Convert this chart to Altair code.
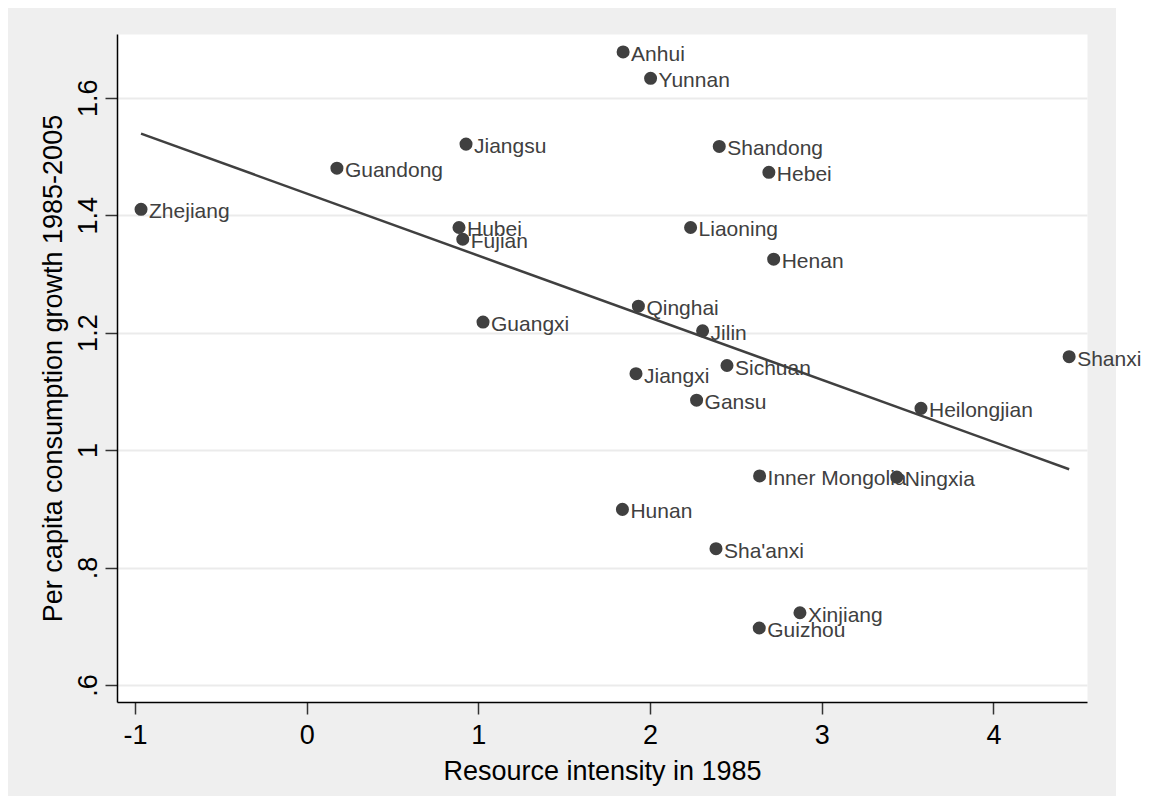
import altair as alt
import pandas as pd

provinces = ["Zhejiang", "Guandong", "Jiangsu", "Anhui", "Yunnan", "Shandong", "Hebei",
             "Liaoning", "Hubei", "Fujian", "Henan", "Qinghai", "Guangxi", "Jilin",
             "Shanxi", "Jiangxi", "Sichuan", "Gansu", "Heilongjian", "Inner Mongolia",
             "Ningxia", "Hunan", "Sha'anxi", "Xinjiang", "Guizhou"]
resource_intensity = [-0.965, 0.176, 0.928, 1.843, 2.003, 2.403, 2.692,
                      2.236, 0.887, 0.909, 2.720, 1.932, 1.027, 2.306,
                      4.441, 1.918, 2.448, 2.271, 3.578, 2.638,
                      3.437, 1.839, 2.384, 2.873, 2.636]
consumption_growth = [1.410, 1.480, 1.521, 1.678, 1.633, 1.517, 1.473,
                      1.379, 1.379, 1.359, 1.325, 1.245, 1.218, 1.203,
                      1.159, 1.130, 1.144, 1.085, 1.071, 0.956,
                      0.954, 0.899, 0.832, 0.723, 0.697]

x_ticks = [-1, 0, 1, 2, 3, 4]
y_ticks = [0.6, 0.8, 1.0, 1.2, 1.4, 1.6]
y_tick_labels = [".6", ".8", "1", "1.2", "1.4", "1.6"]

df = pd.DataFrame({"prov": provinces, "x": resource_intensity, "y": consumption_growth})

# label expression for y ticks built from the tick lists
y_expr = "''"
for v, lab in reversed(list(zip(y_ticks, y_tick_labels))):
    y_expr = f"abs(datum.value - {v}) < 0.01 ? '{lab}' : ({y_expr})"

FONT = "Liberation Sans"
DARK = "#404040"

xscale = alt.Scale(domain=[-1.105, 4.545], nice=False, zero=False)
yscale = alt.Scale(domain=[0.571, 1.7085], nice=False, zero=False)

xaxis = alt.Axis(values=x_ticks, labelExpr="'' + datum.value", title="Resource intensity in 1985",
                 grid=False, tickSize=12, tickWidth=1.5, tickColor="#333333",
                 domainColor="#000000", domainWidth=1.5,
                 labelFont=FONT, labelFontSize=27, labelColor="#000000", labelPadding=8,
                 titleFont=FONT, titleFontSize=27, titleFontWeight="normal", titleColor="#000000",
                 titlePadding=10)
yaxis = alt.Axis(values=y_ticks, labelExpr=y_expr, title="Per capita consumption growth 1985-2005",
                 grid=True, gridColor="#ebebeb", gridWidth=2,
                 tickSize=12, tickWidth=1.5, tickColor="#333333",
                 domainColor="#000000", domainWidth=1.5,
                 labelFont=FONT, labelFontSize=27, labelColor="#000000",
                 labelAngle=270, labelAlign="center", labelBaseline="alphabetic", labelPadding=9,
                 titleFont=FONT, titleFontSize=27, titleFontWeight="normal", titleColor="#000000",
                 titlePadding=7)

base = alt.Chart(df)

# white strip to the right of the grey graph region (decorative)
edge = base.mark_rect(color="white").encode(
    x=alt.value(999), x2=alt.value(1100), y=alt.value(-40), y2=alt.value(800)
).transform_filter("datum.prov == 'Zhejiang'")

points = base.mark_point(filled=True, shape="circle", size=170, color=DARK, opacity=1).encode(
    x=alt.X("x:Q", scale=xscale, axis=xaxis),
    y=alt.Y("y:Q", scale=yscale, axis=yaxis),
)

labels = base.mark_text(align="left", baseline="middle", dx=8, dy=3, font=FONT,
                        fontSize=21, color=DARK).encode(
    x=alt.X("x:Q", scale=xscale),
    y=alt.Y("y:Q", scale=yscale),
    text="prov:N",
)

fit = base.transform_regression("x", "y").mark_line(color=DARK, strokeWidth=2.5).encode(
    x=alt.X("x:Q", scale=xscale),
    y=alt.Y("y:Q", scale=yscale),
)

chart = alt.layer(edge, points, labels, fit).properties(
    width=970, height=668,
    padding={"left": 109, "top": 26, "right": 54, "bottom": 94},
    autosize=alt.AutoSizeParams(type="none"),
    background="#efefef",
).configure_view(fill="white", strokeOpacity=0)

chart.save("out.html", embed_options={"renderer": "svg", "actions": False})
